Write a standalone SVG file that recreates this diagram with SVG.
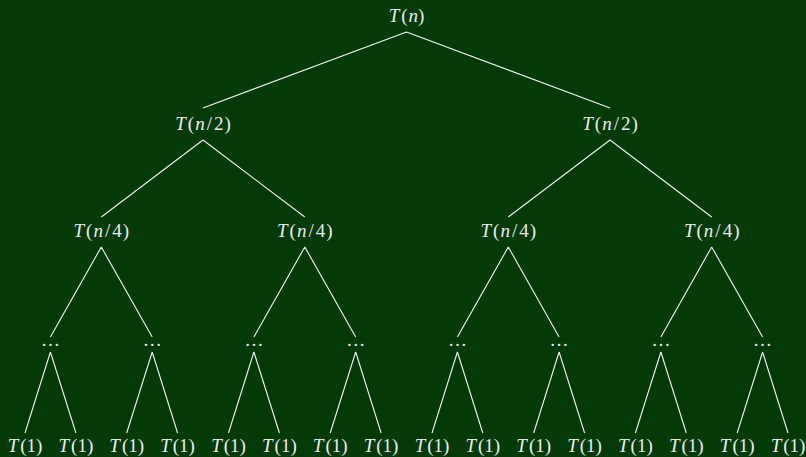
<svg xmlns="http://www.w3.org/2000/svg" width="806" height="457" viewBox="0 0 806 457">
<style>
.bg{fill:#033a08}
.lbl{font-family:"Liberation Serif","DejaVu Serif",serif;font-size:19px;fill:#ececec;text-anchor:middle}
.i{font-style:italic}
.e{stroke:#f4f4f4;stroke-width:1.1;fill:none}
</style>
<rect class="bg" x="0" y="0" width="806" height="457"/>
<g id="connectors" class="e">
<path d="M406.5,32L203,108M406.5,32L610,108"/>
<path d="M203,140L101.3,217M203,140L304.8,217M610,140L508.3,217M610,140L711.7,217"/>
<path d="M101.3,247L50.4,337M101.3,247L152.2,337M304.8,247L253.9,337M304.8,247L355.7,337M508.3,247L457.4,337M508.3,247L559.1,337M711.7,247L660.9,337M711.7,247L762.6,337"/>
<path d="M50.4,352L25,433M50.4,352L75.9,433M152.2,352L126.7,433M152.2,352L177.6,433M253.9,352L228.5,433M253.9,352L279.4,433M355.7,352L330.2,433M355.7,352L381.1,433M457.4,352L432,433M457.4,352L482.8,433M559.1,352L533.7,433M559.1,352L584.6,433M660.9,352L635.4,433M660.9,352L686.3,433M762.6,352L737.2,433M762.6,352L788,433"/>
</g>
<g id="root"><text class="lbl" x="406.5" y="22"><tspan class="i">T</tspan><tspan dx="2">(</tspan><tspan class="i" dx="1">n</tspan>)</text></g>
<g id="n2a"><text class="lbl" x="203" y="130"><tspan class="i">T</tspan><tspan dx="2">(</tspan><tspan class="i" dx="1">n</tspan><tspan dx="2">/</tspan><tspan dx="2">2</tspan><tspan dx="1">)</tspan></text></g>
<g id="n2b"><text class="lbl" x="610" y="130"><tspan class="i">T</tspan><tspan dx="2">(</tspan><tspan class="i" dx="1">n</tspan><tspan dx="2">/</tspan><tspan dx="2">2</tspan><tspan dx="1">)</tspan></text></g>
<g id="n4a"><text class="lbl" x="101.3" y="237"><tspan class="i">T</tspan><tspan dx="2">(</tspan><tspan class="i" dx="1">n</tspan><tspan dx="2">/</tspan><tspan dx="2">4</tspan><tspan dx="1">)</tspan></text></g>
<g id="n4b"><text class="lbl" x="304.8" y="237"><tspan class="i">T</tspan><tspan dx="2">(</tspan><tspan class="i" dx="1">n</tspan><tspan dx="2">/</tspan><tspan dx="2">4</tspan><tspan dx="1">)</tspan></text></g>
<g id="n4c"><text class="lbl" x="508.3" y="237"><tspan class="i">T</tspan><tspan dx="2">(</tspan><tspan class="i" dx="1">n</tspan><tspan dx="2">/</tspan><tspan dx="2">4</tspan><tspan dx="1">)</tspan></text></g>
<g id="n4d"><text class="lbl" x="711.7" y="237"><tspan class="i">T</tspan><tspan dx="2">(</tspan><tspan class="i" dx="1">n</tspan><tspan dx="2">/</tspan><tspan dx="2">4</tspan><tspan dx="1">)</tspan></text></g>
<g id="d1"><text class="lbl" x="50.4" y="346">…</text></g>
<g id="d2"><text class="lbl" x="152.2" y="346">…</text></g>
<g id="d3"><text class="lbl" x="253.9" y="346">…</text></g>
<g id="d4"><text class="lbl" x="355.7" y="346">…</text></g>
<g id="d5"><text class="lbl" x="457.4" y="346">…</text></g>
<g id="d6"><text class="lbl" x="559.1" y="346">…</text></g>
<g id="d7"><text class="lbl" x="660.9" y="346">…</text></g>
<g id="d8"><text class="lbl" x="762.6" y="346">…</text></g>
<g id="l1"><text class="lbl" x="25" y="452"><tspan class="i">T</tspan><tspan dx="2">(1)</tspan></text></g>
<g id="l2"><text class="lbl" x="75.9" y="452"><tspan class="i">T</tspan><tspan dx="2">(1)</tspan></text></g>
<g id="l3"><text class="lbl" x="126.7" y="452"><tspan class="i">T</tspan><tspan dx="2">(1)</tspan></text></g>
<g id="l4"><text class="lbl" x="177.6" y="452"><tspan class="i">T</tspan><tspan dx="2">(1)</tspan></text></g>
<g id="l5"><text class="lbl" x="228.5" y="452"><tspan class="i">T</tspan><tspan dx="2">(1)</tspan></text></g>
<g id="l6"><text class="lbl" x="279.4" y="452"><tspan class="i">T</tspan><tspan dx="2">(1)</tspan></text></g>
<g id="l7"><text class="lbl" x="330.2" y="452"><tspan class="i">T</tspan><tspan dx="2">(1)</tspan></text></g>
<g id="l8"><text class="lbl" x="381.1" y="452"><tspan class="i">T</tspan><tspan dx="2">(1)</tspan></text></g>
<g id="l9"><text class="lbl" x="432" y="452"><tspan class="i">T</tspan><tspan dx="2">(1)</tspan></text></g>
<g id="l10"><text class="lbl" x="482.8" y="452"><tspan class="i">T</tspan><tspan dx="2">(1)</tspan></text></g>
<g id="l11"><text class="lbl" x="533.7" y="452"><tspan class="i">T</tspan><tspan dx="2">(1)</tspan></text></g>
<g id="l12"><text class="lbl" x="584.6" y="452"><tspan class="i">T</tspan><tspan dx="2">(1)</tspan></text></g>
<g id="l13"><text class="lbl" x="635.4" y="452"><tspan class="i">T</tspan><tspan dx="2">(1)</tspan></text></g>
<g id="l14"><text class="lbl" x="686.3" y="452"><tspan class="i">T</tspan><tspan dx="2">(1)</tspan></text></g>
<g id="l15"><text class="lbl" x="737.2" y="452"><tspan class="i">T</tspan><tspan dx="2">(1)</tspan></text></g>
<g id="l16"><text class="lbl" x="788" y="452"><tspan class="i">T</tspan><tspan dx="2">(1)</tspan></text></g>
</svg>
